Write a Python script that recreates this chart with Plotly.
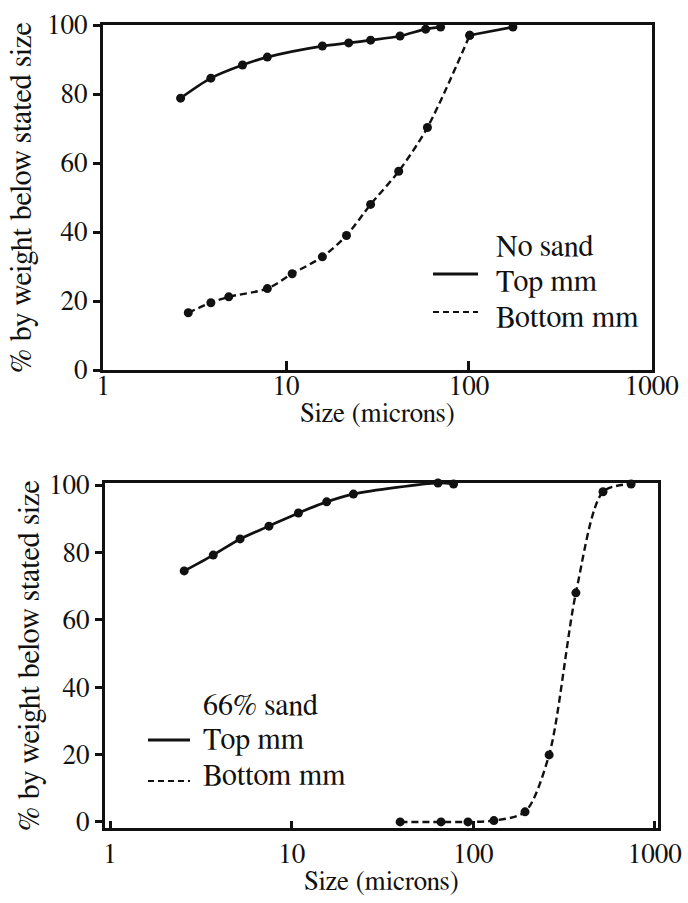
import plotly.graph_objects as go

# ---------------- data ----------------
# Panel 1: No sand
nosand_top_x = [2.65, 3.88, 5.78, 7.9, 15.8, 22, 29, 42, 58, 70]
nosand_top_y = [78.8, 84.6, 88.4, 90.7, 93.9, 94.8, 95.6, 96.8, 98.8, 99.4]
nosand_bot_x = [2.92, 3.88, 4.86, 7.9, 10.8, 15.8, 21.4, 29, 41.3, 59.3, 101, 174]
nosand_bot_y = [16.6, 19.5, 21.2, 23.6, 27.9, 32.8, 39.0, 48.0, 57.6, 70.3, 97.0, 99.4]

# Panel 2: 66% sand
sand_top_x = [2.56, 3.7, 5.2, 7.5, 10.9, 15.6, 21.9, 64, 78]
sand_top_y = [74.5, 79.2, 84.0, 87.8, 91.7, 95.0, 97.3, 100.6, 100.3]
sand_bot_x = [39.6, 66.5, 93.6, 130, 193, 262, 368, 519, 741]
sand_bot_y = [0, 0, 0, 0.4, 3.0, 19.9, 68.0, 98.0, 100.3]

x_ticks = [1, 10, 100, 1000]
x_ticktext = ["1", "10", "100", "1000"]
y_ticks = [0, 20, 40, 60, 80, 100]

legend_top = ["No sand", "Top mm", "Bottom mm"]
legend_bot = ["66% sand", "Top mm", "Bottom mm"]

FONT = "FreeSerif, Liberation Serif, serif"
W, H = 688, 903

def px(x):
    return x / W

def py(y):
    return 1 - y / H

fig = go.Figure()

DASH = "7px,4px"

def add_series(x, y, xa, ya, dash):
    fig.add_trace(go.Scatter(
        x=x, y=y, xaxis=xa, yaxis=ya, mode="lines+markers",
        line=dict(color="#111", width=2.7 if dash == "solid" else 2.4,
                  dash=dash, shape="spline", smoothing=0.8),
        marker=dict(color="#111", size=9),
        cliponaxis=False, showlegend=False))

add_series(nosand_top_x, nosand_top_y, "x", "y", "solid")
add_series(nosand_bot_x[:-1], nosand_bot_y[:-1], "x", "y", DASH)
# final segment of bottom curve drawn solid in the original
fig.add_trace(go.Scatter(
    x=nosand_bot_x[-2:], y=nosand_bot_y[-2:], xaxis="x", yaxis="y",
    mode="lines+markers", line=dict(color="#111", width=2.5),
    marker=dict(color="#111", size=9), cliponaxis=False, showlegend=False))
add_series(sand_top_x, sand_top_y, "x2", "y2", "solid")
add_series(sand_bot_x, sand_bot_y, "x2", "y2", DASH)

axis_common = dict(
    showline=True, mirror=True, linewidth=3, linecolor="#111",
    showgrid=False, zeroline=False, color="#111", automargin=False,
    tickfont=dict(family=FONT, size=27, color="#111"),
)

fig.update_layout(
    template="none",
    width=W, height=H,
    margin=dict(l=0, r=0, t=0, b=0),
    paper_bgcolor="white", plot_bgcolor="white",
    font=dict(family=FONT, color="#111"),
    xaxis=dict(**axis_common, type="log", range=[-0.001, 3.001],
               domain=[px(103), px(652)], anchor="y",
               ticks="inside", ticklen=9, tickwidth=3,
               ticklabelstandoff=-10,
               tickvals=x_ticks, ticktext=x_ticktext,
               title=dict(text="Size (microns)", standoff=0,
                          font=dict(family=FONT, size=27, color="#111"))),
    yaxis=dict(**axis_common, range=[0, 100],
               domain=[py(370), py(25)], anchor="x",
               ticks="outside", ticklen=7, tickwidth=3,
               tickvals=y_ticks,
               title=dict(text="% by weight below stated size", standoff=7,
                          font=dict(family=FONT, size=30, color="#111"))),
    xaxis2=dict(**axis_common, type="log", range=[-0.028, 3.018],
                domain=[px(105), px(658)], anchor="y2",
                ticks="inside", ticklen=7, tickwidth=3,
                tickvals=x_ticks, ticktext=x_ticktext,
                title=dict(text="Size (microns)", standoff=4,
                           font=dict(family=FONT, size=27, color="#111"))),
    yaxis2=dict(**axis_common, range=[-1.8, 100.6],
                domain=[py(828), py(483)], anchor="x2",
                ticks="outside", ticklen=7, tickwidth=3,
                tickvals=y_ticks,
                title=dict(text="% by weight below stated size", standoff=1,
                           font=dict(family=FONT, size=30, color="#111"))),
)

# ---------------- legends (drawn as shapes + text) ----------------
def legend_block(labels, text_x, ys, line_x0, line_x1, line_ys):
    for lab, yy in zip(labels, ys):
        fig.add_annotation(text=lab, x=px(text_x), y=py(yy), xref="paper", yref="paper",
                           xanchor="left", yanchor="middle", showarrow=False,
                           font=dict(family=FONT, size=30, color="#111"))
    fig.add_shape(type="line", xref="paper", yref="paper",
                  x0=px(line_x0), x1=px(line_x1), y0=py(line_ys[0]), y1=py(line_ys[0]),
                  line=dict(color="#111", width=3))
    fig.add_shape(type="line", xref="paper", yref="paper",
                  x0=px(line_x0), x1=px(line_x1), y0=py(line_ys[1]), y1=py(line_ys[1]),
                  line=dict(color="#111", width=2.2, dash="6px,4px"))

legend_block(legend_top, 494, [247, 282, 318], 433, 478, [274, 312])
legend_block(legend_bot, 201, [706, 740, 776], 148, 190, [740, 781])

fig.write_html("out.html")
